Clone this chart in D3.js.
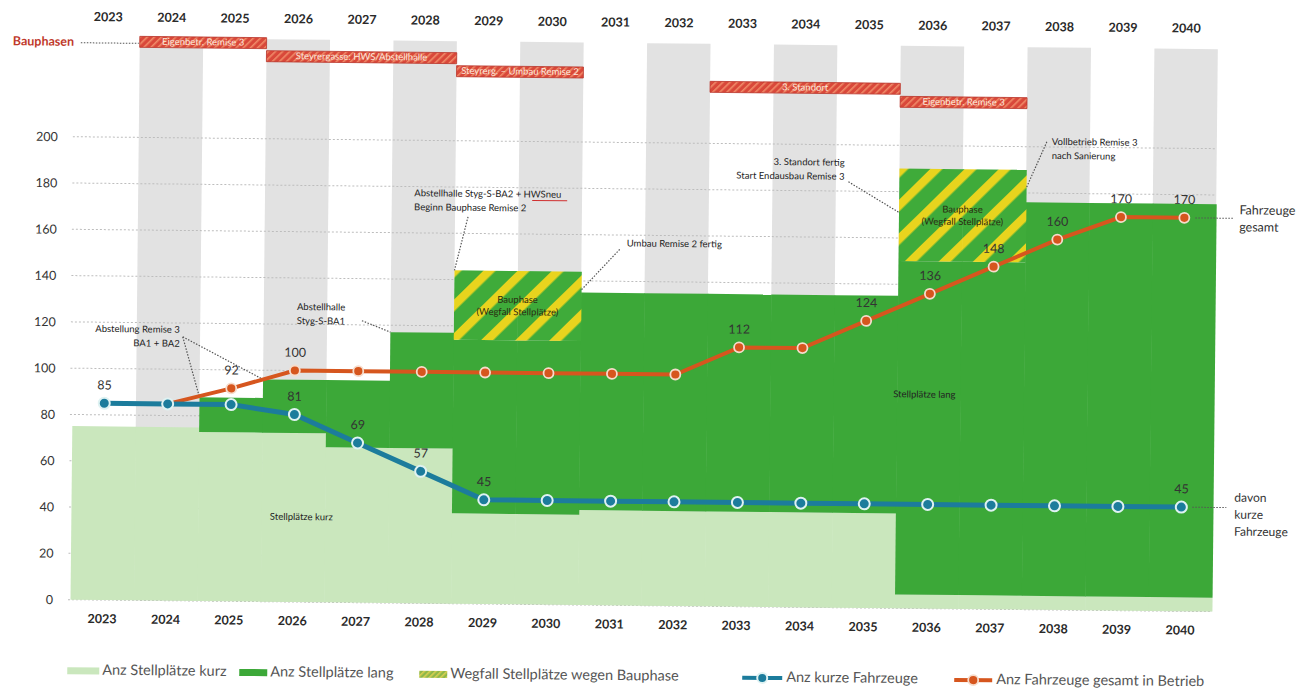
<!DOCTYPE html>
<html><head><meta charset="utf-8">
<script src="https://cdn.jsdelivr.net/npm/d3@7"></script>
<style>
body{margin:0;background:#fff;}
text{font-family:Lato,"Open Sans",sans-serif;}
</style>
</head><body>
<svg id="c" width="1311" height="689"></svg>
<script>
// ---------- DATA ----------
const years = [2023,2024,2025,2026,2027,2028,2029,2030,2031,2032,2033,2034,2035,2036,2037,2038,2039,2040];
const stellplaetzeKurz = [75,75,73,73,67,67,39,39,41,41,41,41,41,6,6,6,6,6];
const stellplaetzeLang = [0,0,15,23,29,50,75,75,94,94,94,94,94,144,144,170,170,170];
const wegfallBauphase  = [0,0,0,0,0,0,30,30,0,0,0,0,0,40,40,0,0,0];
const kurzeFahrzeuge   = [85,85,85,81,69,57,45,45,45,45,45,45,45,45,45,45,45,45];
const fahrzeugeGesamt  = [null,85,92,100,100,100,100,100,100,100,112,112,124,136,148,160,170,170];
const kurzeLabelYears  = [2023,2026,2027,2028,2029,2040];
const gesamtLabelYears = [2025,2026,2033,2035,2036,2037,2038,2039,2040];
const shadedYears = [2024,2026,2028,2030,2032,2034,2036,2038,2040];
const yTicks = [0,20,40,60,80,100,120,140,160,180,200];
const phaseLabels = ["Eigenbetr. Remise 3","Steyrergasse: HWS/Abstellhalle","Steyrerg. – Umbau Remise 2","3. Standort","Eigenbetr. Remise 3"];
const phaseStart  = [2024,2026,2029,2033,2036];
const phaseEnd    = [2025,2028,2030,2035,2037];
const legendLabels = ["Anz Stellplätze kurz","Anz Stellplätze lang","Wegfall Stellplätze wegen Bauphase","Anz kurze Fahrzeuge","Anz Fahrzeuge gesamt in Betrieb"];

// ---------- SETUP ----------
const svg = d3.select("#c");
const defs = svg.append("defs");
const hp = defs.append("pattern").attr("id","hatch").attr("patternUnits","userSpaceOnUse")
  .attr("width",24).attr("height",24).attr("patternTransform","rotate(45)");
hp.append("rect").attr("width",24).attr("height",24).attr("fill","#3fab3a");
hp.append("rect").attr("width",8.5).attr("height",24).attr("fill","#e8d41e");
const hl = defs.append("pattern").attr("id","hatchLeg").attr("patternUnits","userSpaceOnUse")
  .attr("width",4).attr("height",4).attr("patternTransform","rotate(45)");
hl.append("rect").attr("width",4).attr("height",4).attr("fill","#8db84a");
hl.append("rect").attr("width",1.6).attr("height",4).attr("fill","#d9cf50");
const gp = defs.append("pattern").attr("id","gantt").attr("patternUnits","userSpaceOnUse")
  .attr("width",5).attr("height",5).attr("patternTransform","rotate(45)");
gp.append("rect").attr("width",5).attr("height",5).attr("fill","#d9483a");
gp.append("rect").attr("width",1.6).attr("height",5).attr("fill","#f08a68");

const g = svg.append("g").attr("transform","rotate(0.6,103,600)");

const x = d3.scaleBand().domain(years).range([70.5,1212]).paddingInner(0).paddingOuter(0);
const y = d3.scaleLinear().domain([0,243]).range([600,37.5]);
const cx = yr => x(yr) + x.bandwidth()/2;

// shaded columns
g.append("g").selectAll("rect").data(shadedYears).join("rect")
  .attr("x",d=>x(d)).attr("width",x.bandwidth())
  .attr("y",y(243)).attr("height",y(0)-y(243)).attr("fill","#e2e2e2");

// grid + y axis
const yAxis = d3.axisLeft(y).tickValues(yTicks).tickSize(0).tickPadding(0);
const ya = g.append("g").attr("transform","translate(53,0)").call(yAxis);
ya.select(".domain").remove();
ya.selectAll("text").attr("font-size",12.5).attr("fill","#333").attr("font-family","Lato,sans-serif");
g.append("g").selectAll("line").data(yTicks).join("line")
  .attr("x1",68).attr("x2",1212).attr("y1",d=>y(d)).attr("y2",d=>y(d))
  .attr("stroke","#bdbdbd").attr("stroke-width",1).attr("stroke-dasharray","2,2");

// stacked areas
const rows = years.map((yr,i)=>({year:yr,kurz:stellplaetzeKurz[i],lang:stellplaetzeLang[i],weg:wegfallBauphase[i]}));
const stack = d3.stack().keys(["kurz","lang","weg"])(rows);
const fills = {kurz:"#cae7bd",lang:"#3ca838",weg:"url(#hatch)"};
stack.forEach(s=>{
  g.append("g").selectAll("rect").data(s.filter(d=>d[1]-d[0]>0)).join("rect")
    .attr("x",d=>x(d.data.year)).attr("width",x.bandwidth()+0.5)
    .attr("y",d=>y(d[1])).attr("height",d=>y(d[0])-y(d[1]))
    .attr("fill",fills[s.key]);
});

// hatch box labels
function hatchLabel(i0){
  const top = stellplaetzeKurz[i0]+stellplaetzeLang[i0]+wegfallBauphase[i0];
  const bot = stellplaetzeKurz[i0]+stellplaetzeLang[i0];
  const xm = x(years[i0]) + x.bandwidth();
  const ym = (y(top)+y(bot))/2;
  const t = g.append("text").attr("x",xm).attr("y",ym).attr("text-anchor","middle")
    .attr("font-size",9.5).attr("fill","#2a2a10");
  t.append("tspan").attr("x",xm).attr("dy","-0.3em").text("Bauphase");
  t.append("tspan").attr("x",xm).attr("dy","1.3em").text("(Wegfall Stellplätze)");
}
hatchLabel(6); hatchLabel(13);

g.append("text").attr("x",269).attr("y",518).attr("font-size",9.5).attr("fill","#222").text("Stellplätze kurz");
g.append("text").attr("x",891).attr("y",389).attr("font-size",9.5).attr("fill","#222").text("Stellplätze lang");

// gantt bars (Bauphasen)
const rowTop = i => 36 + i*13;
phaseLabels.forEach((lab,i)=>{
  const x0 = x(phaseStart[i]), x1 = x(phaseEnd[i]) + x.bandwidth();
  g.append("rect").attr("x",x0).attr("y",rowTop(i)).attr("width",x1-x0).attr("height",11)
    .attr("fill","url(#gantt)").attr("stroke","#b8352a").attr("stroke-width",0.8);
  g.append("text").attr("x",(x0+x1)/2).attr("y",rowTop(i)+5.8).attr("text-anchor","middle")
    .attr("dominant-baseline","middle").attr("font-size",9.5).attr("fill","#fbe7dc").text(lab);
});
g.append("text").attr("x",7).attr("y",43).attr("dominant-baseline","middle").attr("font-size",12.5)
  .attr("font-weight","bold").attr("fill","#c0392b").text("Bauphasen");
g.append("line").attr("x1",75).attr("x2",133).attr("y1",43).attr("y2",43)
  .attr("stroke","#555").attr("stroke-dasharray","1.5,1.5");

// year labels top and bottom
[18,620].forEach(yy=>{
  g.append("g").selectAll("text").data(years).join("text")
    .attr("x",d=>cx(d)).attr("y",yy).attr("text-anchor","middle").attr("dominant-baseline","middle")
    .attr("font-size",12.5).attr("font-weight","bold").attr("fill","#2a2a2a").text(d=>d);
});

// annotations
function leader(x1,y1,x2,y2){
  g.append("line").attr("x1",x1).attr("y1",y1).attr("x2",x2).attr("y2",y2)
    .attr("stroke","#555").attr("stroke-width",1.2).attr("stroke-dasharray","1.5,1.5");
}
function note(lines,xx,yy,anchor){
  const t = g.append("text").attr("x",xx).attr("y",yy).attr("text-anchor",anchor)
    .attr("font-size",9.5).attr("fill","#222");
  lines.forEach((l,i)=>t.append("tspan").attr("x",xx).attr("dy",i?14:0).text(l));
  return t;
}
note(["Abstellung Remise 3","BA1 + BA2"],177,332,"end");
leader(180,336,x(2025),y(88)); leader(180,336,x(2026),y(96));
note(["Abstellhalle","Styg-S-BA1"],318,308,"middle");
leader(359,318,x(2028),y(117));
note(["Abstellhalle Styg-S-BA2 + HWSneu","Beginn Bauphase Remise 2"],410,193,"start");
g.append("line").attr("x1",528).attr("x2",563).attr("y1",196).attr("y2",196).attr("stroke","#d03030").attr("stroke-width",1);
leader(464,213,x(2029),y(144));
note(["Umbau Remise 2 fertig"],623,241,"start");
leader(616,244,x(2031),y(136));
note(["3. Standort fertig","Start Endausbau Remise 3"],840,158,"end");
leader(844,174,x(2036),y(171));
note(["Vollbetrieb Remise 3","nach Sanierung"],1047,135,"start");
leader(1042,132,x(2038),y(182));

// lines
const lineGen = d3.line().defined(d=>d[1]!=null).x(d=>cx(d[0])).y(d=>y(d[1]));
const kData = years.map((yr,i)=>[yr,kurzeFahrzeuge[i]]);
const gData = years.map((yr,i)=>[yr,fahrzeugeGesamt[i]]);
const blue = "#1c7c9c", orange = "#d6561e";
g.append("path").attr("d",lineGen(gData)).attr("fill","none").attr("stroke",orange).attr("stroke-width",4);
g.append("path").attr("d",lineGen(kData)).attr("fill","none").attr("stroke",blue).attr("stroke-width",5);
g.append("g").selectAll("circle").data(gData.filter(d=>d[1]!=null)).join("circle")
  .attr("cx",d=>cx(d[0])).attr("cy",d=>y(d[1])).attr("r",5).attr("fill",orange)
  .attr("stroke","#f6dccc").attr("stroke-width",1.8);
g.append("g").selectAll("circle").data(kData).join("circle")
  .attr("cx",d=>cx(d[0])).attr("cy",d=>y(d[1])).attr("r",5.5).attr("fill",blue)
  .attr("stroke","#dff2f2").attr("stroke-width",2);

// value labels
g.append("g").selectAll("text").data(kData.filter(d=>kurzeLabelYears.includes(d[0]))).join("text")
  .attr("x",d=>cx(d[0])).attr("y",d=>y(d[1])-17).attr("text-anchor","middle").attr("dominant-baseline","middle")
  .attr("font-size",12.5).attr("fill","#333").text(d=>d[1]);
g.append("g").selectAll("text").data(gData.filter(d=>gesamtLabelYears.includes(d[0]))).join("text")
  .attr("x",d=>cx(d[0])).attr("y",d=>y(d[1])-17).attr("text-anchor","middle").attr("dominant-baseline","middle")
  .attr("font-size",12.5).attr("fill","#333").text(d=>d[1]);

// right side labels
const xr = cx(2040);
g.append("line").attr("x1",xr+11).attr("x2",xr+49).attr("y1",y(170)).attr("y2",y(170)).attr("stroke","#555").attr("stroke-dasharray","1.5,1.5");
const tr1 = g.append("text").attr("x",xr+55).attr("y",y(170)-7).attr("dominant-baseline","middle").attr("font-size",12.5).attr("fill","#333");
tr1.append("tspan").attr("x",xr+55).text("Fahrzeuge");
tr1.append("tspan").attr("x",xr+55).attr("dy",17).text("gesamt");
g.append("line").attr("x1",xr+11).attr("x2",xr+45).attr("y1",y(45)).attr("y2",y(45)).attr("stroke","#555").attr("stroke-dasharray","1.5,1.5");
const tr2 = g.append("text").attr("x",xr+53).attr("y",y(45)-9).attr("dominant-baseline","middle").attr("font-size",12).attr("fill","#333");
["davon","kurze","Fahrzeuge"].forEach((l,i)=>tr2.append("tspan").attr("x",xr+53).attr("dy",i?17:0).text(l));

// legend
const legX = [68,240,420,743,955];
const legY = 671;
const lg = g.append("g");
lg.append("rect").attr("x",legX[0]).attr("y",legY-3.5).attr("width",32).attr("height",7).attr("fill","#cae7bd");
lg.append("rect").attr("x",legX[1]).attr("y",legY-3.5).attr("width",28).attr("height",7).attr("fill","#3ca838");
lg.append("rect").attr("x",legX[2]).attr("y",legY-3.5).attr("width",28).attr("height",7).attr("fill","url(#hatchLeg)");
lg.append("line").attr("x1",legX[3]).attr("x2",legX[3]+40).attr("y1",legY).attr("y2",legY).attr("stroke",blue).attr("stroke-width",4);
lg.append("circle").attr("cx",legX[3]+20).attr("cy",legY).attr("r",5).attr("fill",blue).attr("stroke","#dff2f2").attr("stroke-width",2);
lg.append("line").attr("x1",legX[4]).attr("x2",legX[4]+38).attr("y1",legY).attr("y2",legY).attr("stroke",orange).attr("stroke-width",4);
lg.append("circle").attr("cx",legX[4]+19).attr("cy",legY).attr("r",5).attr("fill",orange).attr("stroke","#f6dccc").attr("stroke-width",1.8);
const legTextX = [legX[0]+35,legX[1]+31,legX[2]+31,legX[3]+44,legX[4]+42];
lg.selectAll("text").data(legendLabels).join("text")
  .attr("x",(d,i)=>legTextX[i]).attr("y",legY).attr("dominant-baseline","middle")
  .attr("font-size",14.5).attr("fill","#555").text(d=>d);
</script>
</body></html>
